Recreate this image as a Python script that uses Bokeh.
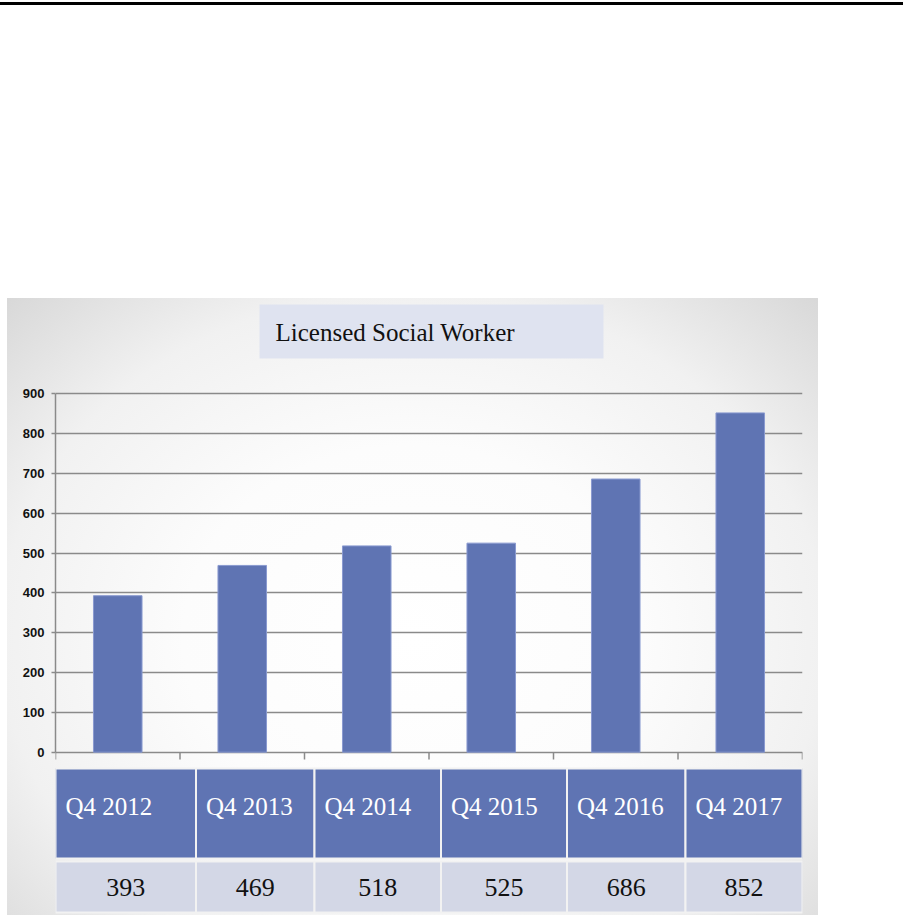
from bokeh.plotting import figure
from bokeh.models import Range1d, FixedTicker
from bokeh.core.properties import value
from bokeh.embed import file_html
from bokeh.resources import INLINE

# ---------------- data ----------------
CATEGORIES = ["Q4 2012", "Q4 2013", "Q4 2014", "Q4 2015", "Q4 2016", "Q4 2017"]
VALUES = [393, 469, 518, 525, 686, 852]
Y_TICKS = [0, 100, 200, 300, 400, 500, 600, 700, 800, 900]
TITLE = "Licensed Social Worker"

# ---------------- layout (pixels) ----------------
W = 903
H = 915
FRAME_L, FRAME_R = 55, 802
Y0_GLOBAL = 751.7      # pixel row of value 0
Y900_GLOBAL = 393.3    # pixel row of value 900
PX_PER_UNIT = (Y0_GLOBAL - Y900_GLOBAL) / 900.0
PX_PER_CAT = (FRAME_R - FRAME_L) / len(CATEGORIES)
TABLE_EDGES_PX = [55, 195.5, 314, 440.5, 566.5, 685, 802]

BAR_COLOR = "#5f74b3"
AXIS_COLOR = "#8a8a8a"


def xd(px):
    return (px - FRAME_L) / PX_PER_CAT


def yd(py):
    return (Y0_GLOBAL - py) / PX_PER_UNIT


n = len(CATEGORIES)

p = figure(width=W, height=H,
           x_range=Range1d(0, n),
           y_range=Range1d(-(H - Y0_GLOBAL) / PX_PER_UNIT, Y0_GLOBAL / PX_PER_UNIT),
           output_backend="svg", toolbar_location=None,
           x_axis_location=None, y_axis_location="left",
           min_border_left=FRAME_L, min_border_right=W - FRAME_R,
           min_border_top=0, min_border_bottom=0)
p.outline_line_color = None
p.background_fill_alpha = 0
p.border_fill_alpha = 0
# page decoration: black rule at top + grey radial-gradient panel behind the chart
p.styles = {
    "background-color": "#ffffff",
    "background-image": "linear-gradient(#000000, #000000), "
                        "radial-gradient(ellipse farthest-corner at 50% 55%, #ffffff 0%, #fcfcfc 40%, #f1f1f1 72%, #d8d8d8 100%)",
    "background-repeat": "no-repeat, no-repeat",
    "background-position": "0px 2px, 7px 298px",
    "background-size": "903px 3px, 811px 617px",
}

# y axis
ax = p.yaxis[0]
ax.ticker = FixedTicker(ticks=Y_TICKS)
ax.bounds = (Y_TICKS[0], Y_TICKS[-1])
ax.axis_line_color = AXIS_COLOR
ax.axis_line_width = 1.5
ax.major_tick_line_color = AXIS_COLOR
ax.major_tick_line_width = 1.5
ax.major_tick_out = 4
ax.major_tick_in = 0
ax.minor_tick_line_color = None
ax.major_label_standoff = 7
ax.major_label_text_font = "Liberation Sans"
ax.major_label_text_font_size = "13px"
ax.major_label_text_font_style = "bold"
ax.major_label_text_color = "#111111"

p.xgrid.visible = False
p.ygrid.ticker = FixedTicker(ticks=Y_TICKS)
p.ygrid.grid_line_color = AXIS_COLOR
p.ygrid.grid_line_width = 1.5

# x-axis boundary ticks below zero line
p.segment(x0=list(range(n + 1)), y0=[0] * (n + 1), x1=list(range(n + 1)),
          y1=[yd(759)] * (n + 1), line_color=AXIS_COLOR, line_width=1.5)

# bars
p.vbar(x=[i + 0.5 for i in range(n)], top=VALUES, bottom=0, width=0.39,
       fill_color=BAR_COLOR, line_color="#8a9ad0", line_width=1)

# title box
p.quad(left=[xd(259)], right=[xd(603)], top=[yd(304)], bottom=[yd(358)],
       fill_color="#dfe3f0", line_color=None)
p.text(x=[xd(275)], y=[yd(332)], text=[TITLE], text_font=value("Liberation Serif"),
       text_font_size="25px", text_baseline="middle", text_align="left",
       text_color="#111111")

# data table under the chart
lefts = [xd(v) for v in TABLE_EDGES_PX[:-1]]
rights = [xd(v) for v in TABLE_EDGES_PX[1:]]
p.quad(left=lefts, right=rights, top=[yd(768)] * n, bottom=[yd(858)] * n,
       fill_color=BAR_COLOR, line_color="#f2f2f2", line_width=2)
p.quad(left=lefts, right=rights, top=[yd(861)] * n, bottom=[yd(912)] * n,
       fill_color="#d3d7e6", line_color="#f2f2f2", line_width=2)

p.text(x=[l + xd(65) - xd(55) for l in lefts], y=[yd(806)] * n, text=CATEGORIES,
       text_font=value("Liberation Serif"), text_font_size="25px",
       text_baseline="alphabetic", text_align="left", text_color="white")
p.text(x=[(l + r) / 2 for l, r in zip(lefts, rights)], y=[yd(887)] * n,
       text=[str(v) for v in VALUES],
       text_font=value("Liberation Serif"), text_font_size="26px",
       text_baseline="middle", text_align="center", text_color="#111111")

open("out.html", "w").write(file_html(p, INLINE))
